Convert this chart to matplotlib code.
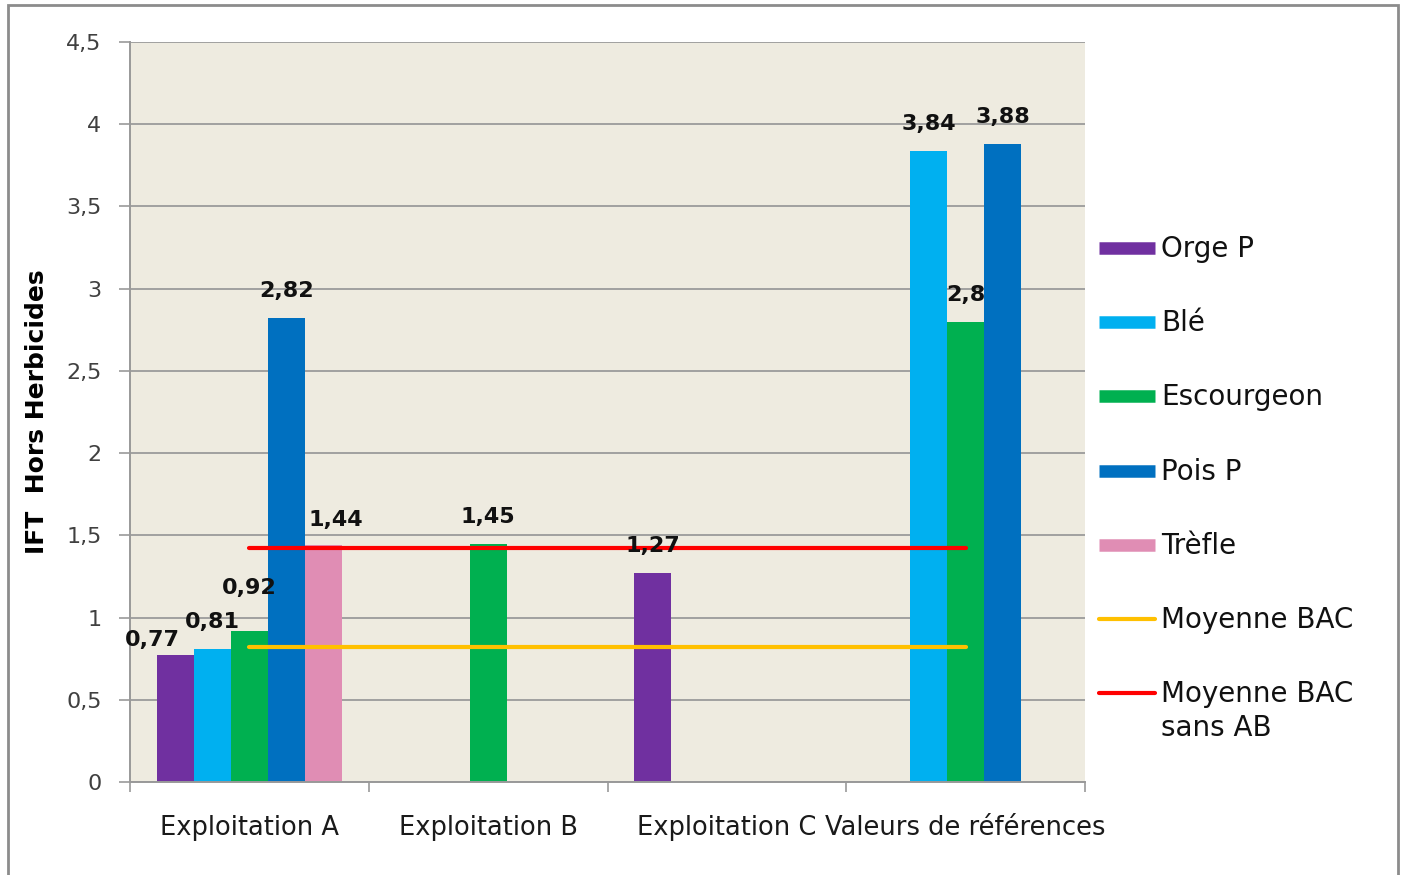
import numpy as np
import matplotlib.pyplot as plt
from matplotlib.lines import Line2D
from matplotlib.patches import Rectangle

categories = ["Exploitation A", "Exploitation B", "Exploitation C", "Valeurs de références"]

series_names = ["Orge P", "Blé", "Escourgeon", "Pois P", "Trèfle"]
series_colors = ["#7030A0", "#00B0F0", "#00B050", "#0070C0", "#E08DB4"]

# None = no bar for that crop on that farm
orge_p = [0.77, None, 1.27, None]
ble = [0.81, None, None, 3.84]
escourgeon = [0.92, 1.45, None, 2.8]
pois_p = [2.82, None, None, 3.88]
trefle = [1.44, None, None, None]

moyenne_bac = [0.82, 0.82, 0.82, 0.82]
moyenne_bac_sans_ab = [1.42, 1.42, 1.42, 1.42]

y_ticks = [0, 0.5, 1, 1.5, 2, 2.5, 3, 3.5, 4, 4.5]


def fr(v):
    return f"{v:g}".replace(".", ",")


plt.rcParams["font.family"] = "DejaVu Sans"

W, H = 1401, 875
fig = plt.figure(figsize=(W / 100, H / 100), dpi=100)
fig.patch.set_facecolor("white")
ax = fig.add_axes([130 / W, 1 - 782 / H, (1085 - 130) / W, (782 - 42) / H])
ax.set_facecolor("#EEEBE0")

x = np.arange(len(categories))
width = 0.155
all_series = [orge_p, ble, escourgeon, pois_p, trefle]

# hand-placed labels (pixel offsets) where the defaults would collide
label_shift = {(0, 0): (-23, 15), (0, 2): (0, 43), (0, 4): (12, 25)}

for i, (vals, name, color) in enumerate(zip(all_series, series_names, series_colors)):
    xs = [xi + (i - 2) * width for xi, v in zip(x, vals) if v is not None]
    ys = [v for v in vals if v is not None]
    ax.bar(xs, ys, width=width, color=color, zorder=2, label=name)
    for j, v in enumerate(vals):
        if v is None:
            continue
        dx, dy = label_shift.get((j, i), (0, 27))
        ax.annotate(fr(v), (x[j] + (i - 2) * width, v), xytext=(dx, dy),
                    textcoords="offset pixels", ha="center", va="center",
                    fontsize=16, fontweight="bold", color="#111111", zorder=4)

ax.plot(x, moyenne_bac, color="#FFC000", lw=3, solid_capstyle="round", zorder=3)
ax.plot(x, moyenne_bac_sans_ab, color="#FF0000", lw=3, solid_capstyle="round", zorder=3)

ax.set_xlim(-0.5, 3.5)
ax.set_ylim(0, 4.5)
ax.set_yticks(y_ticks)
ax.set_yticklabels([fr(t) for t in y_ticks], fontsize=16, color="#404040")
ax.tick_params(axis="y", length=8, width=1.2, color="#999999", pad=12.5)

ax.set_xticks(np.arange(-0.5, 4, 1))
ax.set_xticklabels([])
ax.set_xticks(x, minor=True)
ax.set_xticklabels(categories, minor=True, fontsize=18.5, color="#1a1a1a")
ax.tick_params(axis="x", which="major", length=7, width=1.2, color="#999999")
ax.tick_params(axis="x", which="minor", length=0, pad=23.5)

ax.grid(axis="y", color="#A0A0A0", lw=1.4, zorder=1)
for side in ["top", "right"]:
    ax.spines[side].set_visible(False)
for side in ["left", "bottom"]:
    ax.spines[side].set_color("#999999")
    ax.spines[side].set_linewidth(1.4)

ax.set_ylabel("IFT  Hors Herbicides", fontsize=18, fontweight="bold", labelpad=12.5)

# legend drawn by hand so the two-line entry keeps its key on the first line
legend_labels = series_names + ["Moyenne BAC", "Moyenne BAC\nsans AB"]
legend_colors = series_colors + ["#FFC000", "#FF0000"]
legend_lw = [9] * len(series_names) + [3, 3]
legend_caps = ["butt"] * len(series_names) + ["round", "round"]
top, step, line_h = 248, 74.2, 34
for k, (lab, col, lw, cap) in enumerate(zip(legend_labels, legend_colors, legend_lw, legend_caps)):
    yk = 1 - (top + k * step) / H
    fig.add_artist(Line2D([1099 / W, 1155 / W], [yk, yk], transform=fig.transFigure,
                          color=col, lw=lw, solid_capstyle=cap))
    for m, part in enumerate(lab.split("\n")):
        fig.text(1161 / W, yk - m * line_h / H + 2 / H, part, fontsize=20,
                 va="center_baseline", ha="left", color="#111111")

# outer frame of the chart area
fig.add_artist(Rectangle((8 / W, -0.05), (1398 - 8) / W, 1.05 - 5 / H,
                         transform=fig.transFigure, fill=False,
                         edgecolor="#8c8c8c", lw=2))

fig.savefig("out.png", dpi=100)
